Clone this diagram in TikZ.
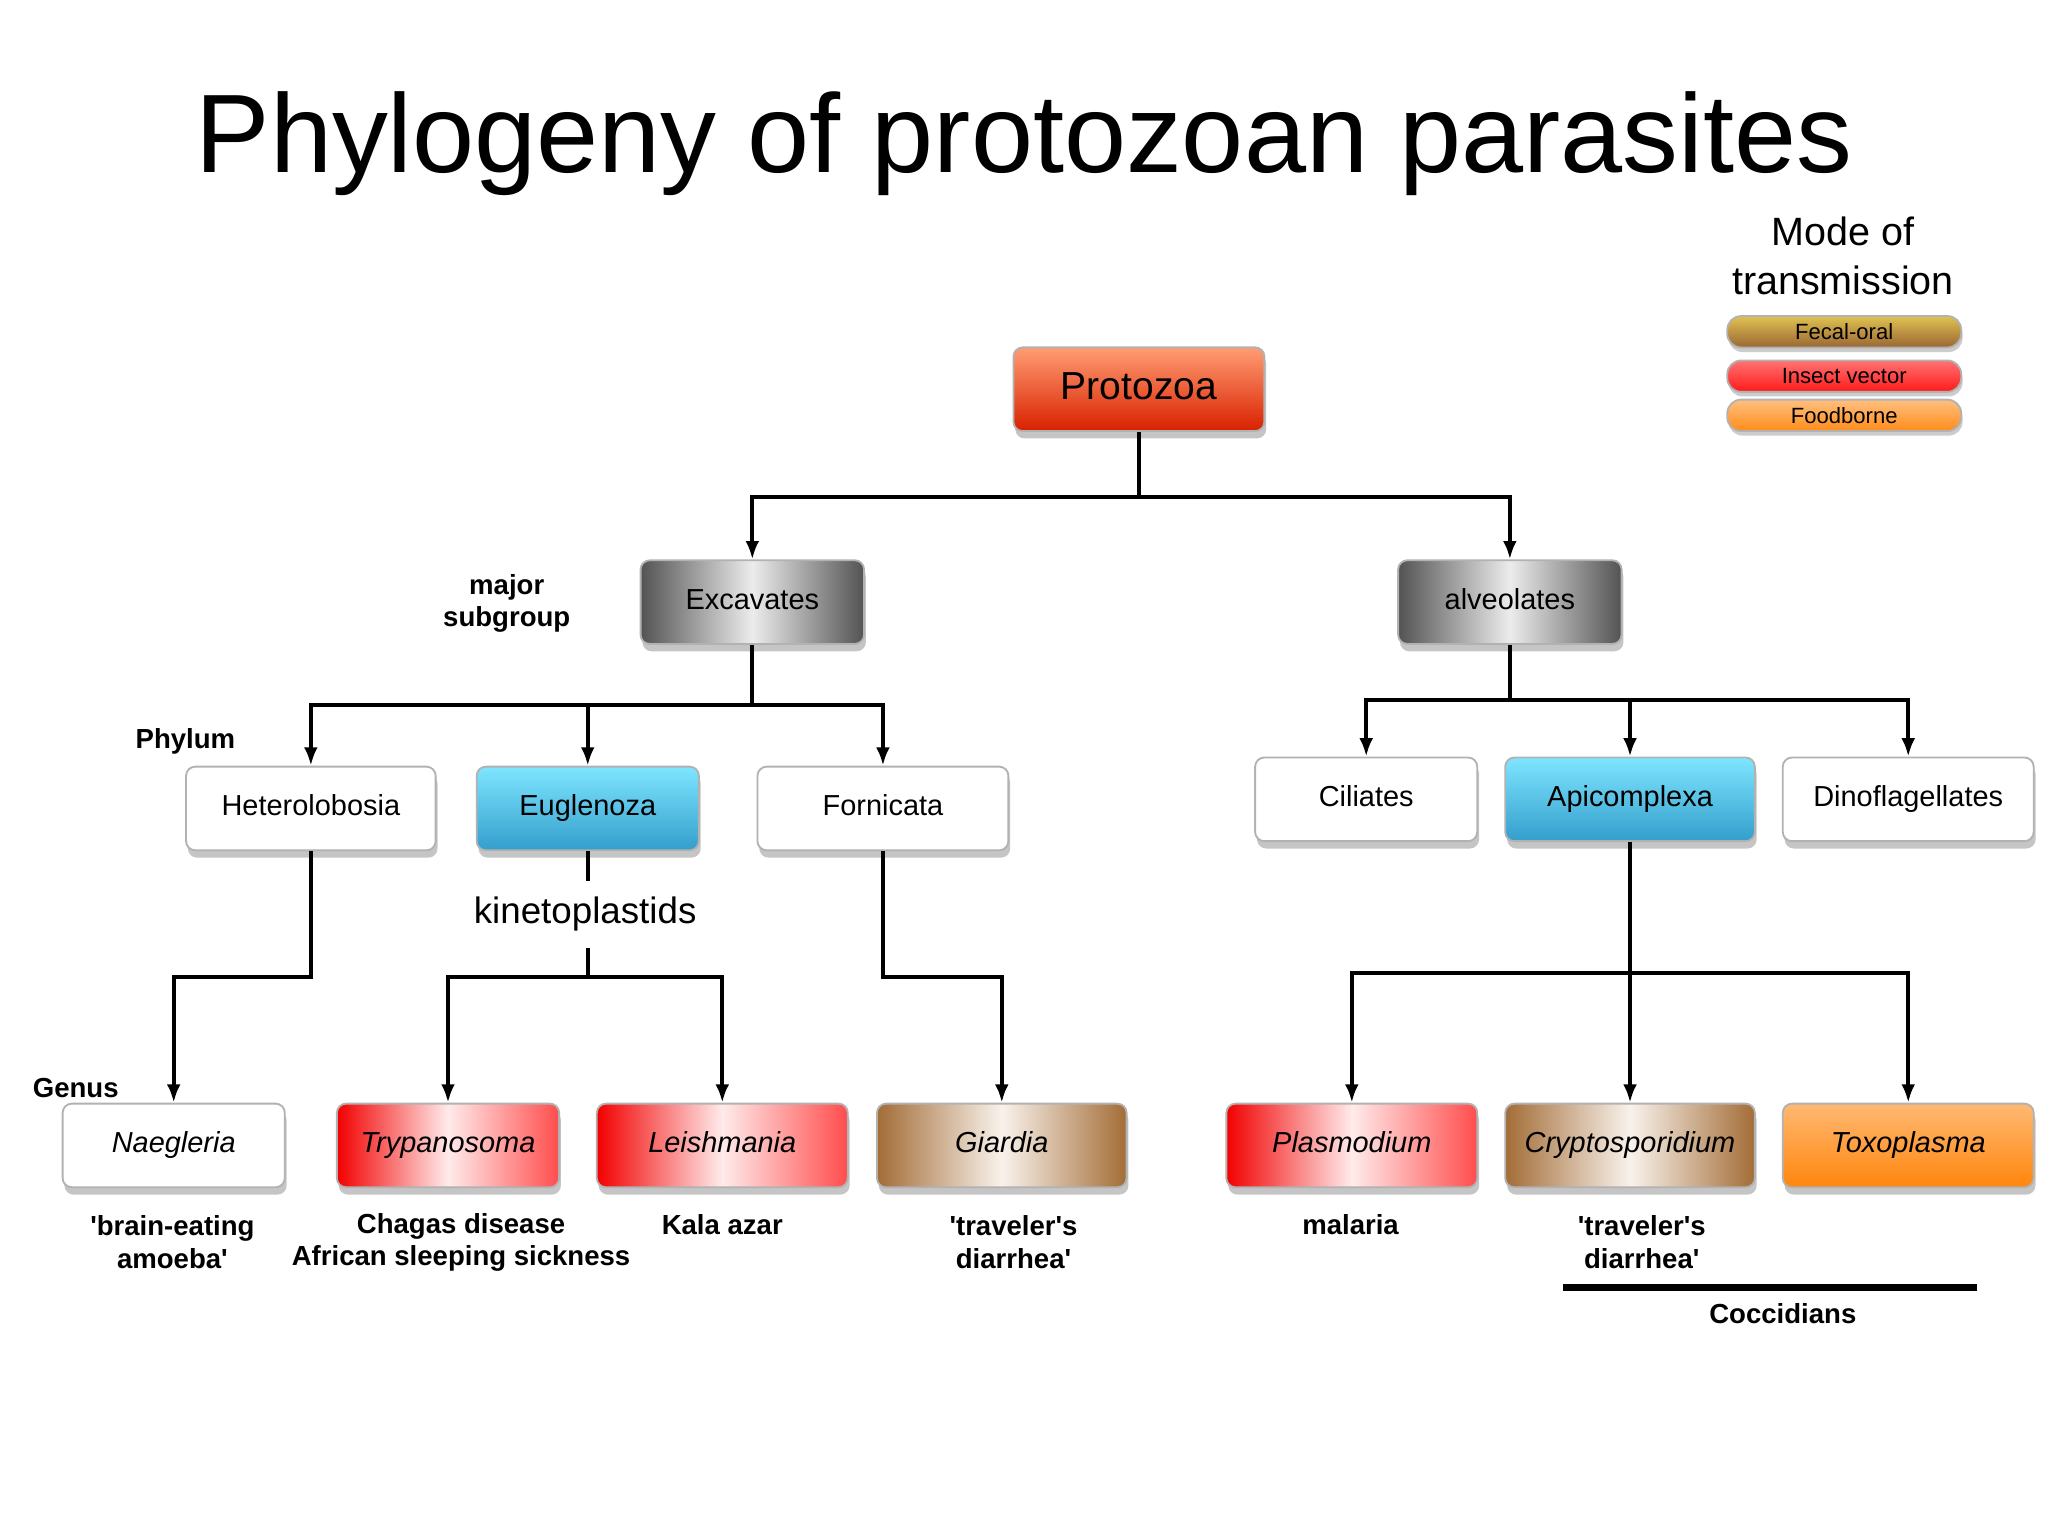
\documentclass[tikz,border=0pt]{standalone}
\usepackage{fontspec}
\setmainfont{Liberation Sans}
\usetikzlibrary{arrows.meta,shadows}

\newcommand{\q}{\textquotesingle}
\tikzset{
  taxon/.style={draw=gray!60, rounded corners=2pt, minimum height=0.64cm, inner sep=0pt,
    text height=1.6mm, text depth=0.5mm,
    drop shadow={shadow xshift=0.4pt, shadow yshift=-1.6pt, opacity=0.45}, font=\fontsize{6.3}{7}\selectfont},
  plainbox/.style={taxon, fill=white},
  greybox/.style={taxon, left color=gray!65!black, right color=gray!65!black, middle color=gray!15},
  bluebox/.style={taxon, top color=cyan!45!white!90!blue, bottom color=blue!30!cyan!60!gray},
  redbox/.style={taxon, left color=red!95!black, right color=red!70, middle color=red!8, font=\fontsize{6.3}{7}\selectfont\itshape},
  brownbox/.style={taxon, left color=brown!85!black, right color=brown!85!black, middle color=brown!10, font=\fontsize{6.3}{7}\selectfont\itshape},
  orangebox/.style={taxon, top color=orange!55, bottom color=orange!95, font=\fontsize{6.3}{7}\selectfont\itshape},
  legendbox/.style={draw=gray!60, rounded corners=3pt, minimum width=1.79cm, minimum height=0.24cm, inner sep=0pt,
    drop shadow={shadow xshift=0.3pt, shadow yshift=-1pt, opacity=0.4}, font=\fontsize{4.8}{5}\selectfont},
  note/.style={font=\fontsize{6}{7}\selectfont\bfseries, align=center},
  link/.style={thick},
  arr/.style={thick, -{Latex[length=4pt,width=3pt]}}
}

\begin{document}
\begin{tikzpicture}[x=0.01cm, y=-0.01cm]
    \useasboundingbox[fill=white] (0,0) rectangle (1568,1176);

    % title and legend
    \node (title) at (784,110) {\fontsize{24.3}{28}\selectfont Phylogeny of protozoan parasites};
    \node[align=center, font=\fontsize{8.6}{10.6}\selectfont] (mode) at (1411,196) {Mode of\\transmission};
    \node[legendbox, top color=brown!60!yellow!80, bottom color=brown!80!black] (fecal) at (1412,254) {Fecal-oral};
    \node[legendbox, top color=red!55, bottom color=red!90] (insect) at (1412,288) {Insect vector};
    \node[legendbox, top color=orange!50, bottom color=orange!90] (food) at (1412,318) {Foodborne};

    % root and major subgroups
    \node[taxon, top color=red!40!orange!55, bottom color=red!70!orange!85!black, minimum width=1.92cm,
      font=\fontsize{8.5}{10}\selectfont, text height=2.2mm, text depth=0.7mm] (protozoa) at (872,298) {Protozoa};
    \node[greybox, minimum width=1.71cm] (excavates) at (576,461) {Excavates};
    \node[greybox, minimum width=1.71cm] (alveolates) at (1156,461) {alveolates};

    % phyla
    \node[plainbox, minimum width=1.91cm] (hetero) at (238,619) {Heterolobosia};
    \node[bluebox, minimum width=1.70cm] (eugleno) at (450,619) {Euglenoza};
    \node[plainbox, minimum width=1.92cm] (fornic) at (676,619) {Fornicata};
    \node[plainbox, minimum width=1.70cm] (ciliates) at (1046,612) {Ciliates};
    \node[bluebox, minimum width=1.91cm] (apicom) at (1248,612) {Apicomplexa};
    \node[plainbox, minimum width=1.92cm] (dino) at (1461,612) {Dinoflagellates};
    \node[font=\fontsize{8}{9}\selectfont] (kineto) at (448,700) {kinetoplastids};

    % genera
    \node[plainbox, minimum width=1.70cm, font=\fontsize{6.3}{7}\selectfont\itshape] (naeg) at (133,877) {Naegleria};
    \node[redbox, minimum width=1.70cm] (trypa) at (343,877) {Trypanosoma};
    \node[redbox, minimum width=1.92cm] (leish) at (553,877) {Leishmania};
    \node[brownbox, minimum width=1.91cm] (giardia) at (767,877) {Giardia};
    \node[redbox, minimum width=1.92cm] (plasmo) at (1035,877) {Plasmodium};
    \node[brownbox, minimum width=1.91cm] (crypto) at (1248,877) {Cryptosporidium};
    \node[orangebox, minimum width=1.92cm] (toxo) at (1461,877) {Toxoplasma};

    % rank labels
    \node[note] (major) at (388,462) {major\\subgroup};
    \node[note] (phylum) at (142,568) {Phylum};
    \node[note] (genus) at (58,833) {Genus};

    % diseases
    \node[note] (d1) at (132,951) {\q brain-eating\\amoeba\q};
    \node[note] (d2) at (353,951) {Chagas disease\\African sleeping sickness};
    \node[note] (d3) at (553,938) {Kala azar};
    \node[note] (d4) at (776,951) {\q traveler\q s\\diarrhea\q};
    \node[note] (d5) at (1034,938) {malaria};
    \node[note] (d6) at (1257,951) {\q traveler\q s\\diarrhea\q};
    \coordinate (cocA) at (1197,986);
    \coordinate (cocB) at (1514,986);
    \draw[line width=1.5pt] (cocA) -- (cocB);
    \node[note] (cocc) at (1365,1006) {Coccidians};

    % tree connectors
    \draw[link] (protozoa.south) -- ++(0,50);
    \foreach \t in {excavates, alveolates}
      \draw[arr] (protozoa.south) ++(0,50) -| (\t.north);
    \foreach \t in {hetero, eugleno, fornic}
      \draw[arr] (excavates.south) -- ++(0,46) -| (\t.north);
    \foreach \t in {ciliates, apicom, dino}
      \draw[arr] (alveolates.south) -- ++(0,42) -| (\t.north);
    \draw[arr] (hetero.south) |- (133,748) -- (naeg.north);
    \draw[link] (eugleno.south) -- (eugleno.south |- kineto.north);
    \foreach \t in {trypa, leish}
      \draw[arr] (eugleno.south |- kineto.south) -- (450,748) -| (\t.north);
    \draw[arr] (fornic.south) |- (767,748) -- (giardia.north);
    \foreach \t in {plasmo, crypto, toxo}
      \draw[arr] (apicom.south) -- (1248,745) -| (\t.north);
\end{tikzpicture}
\end{document}
